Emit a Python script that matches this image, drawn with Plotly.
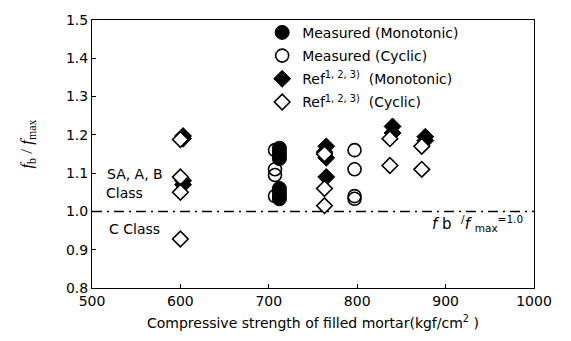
import plotly.graph_objects as go

# Bond strength ratio f_b / f_max against compressive strength of filled mortar
meas_mono_x = [712, 712, 712, 712, 712, 712, 712, 712]
meas_mono_y = [1.165, 1.155, 1.145, 1.138, 1.06, 1.05, 1.04, 1.033]

meas_cyc_x = [707, 707, 707, 707, 797, 797, 797, 797]
meas_cyc_y = [1.16, 1.11, 1.095, 1.04, 1.16, 1.11, 1.04, 1.033]

ref_mono_x = [603, 603, 603, 603, 765, 765, 765, 840, 840, 877, 877]
ref_mono_y = [1.197, 1.19, 1.08, 1.07, 1.17, 1.14, 1.09, 1.222, 1.205, 1.195, 1.185]

ref_cyc_x = [600, 600, 600, 600, 763, 763, 763, 763, 837, 837, 873, 873]
ref_cyc_y = [1.188, 1.09, 1.05, 0.928, 1.155, 1.15, 1.06, 1.015, 1.19, 1.12, 1.17, 1.11]

threshold = 1.0
x_ticks = [500, 600, 700, 800, 900, 1000]
y_ticks = [0.8, 0.9, 1.0, 1.1, 1.2, 1.3, 1.4, 1.5]

FONT = "DejaVu Sans"
BLACK = "#000000"

fig = go.Figure()

fig.add_trace(go.Scatter(
    x=meas_mono_x, y=meas_mono_y, mode="markers", name="Measured (Monotonic)",
    legendgroup="a",
    marker=dict(symbol="circle", size=14, color=BLACK, line=dict(color=BLACK, width=1)),
))
fig.add_trace(go.Scatter(
    x=meas_cyc_x, y=meas_cyc_y, mode="markers", name="Measured (Cyclic)",
    legendgroup="b",
    marker=dict(symbol="circle-open", size=13, color=BLACK, line=dict(color=BLACK, width=1.6)),
))
fig.add_trace(go.Scatter(
    x=ref_mono_x, y=ref_mono_y, mode="markers",
    name="Ref<sup>1, 2, 3)</sup>  (Monotonic)",
    legendgroup="c",
    marker=dict(symbol="diamond", size=13, color=BLACK, line=dict(color=BLACK, width=1)),
))
fig.add_trace(go.Scatter(
    x=ref_cyc_x, y=ref_cyc_y, mode="markers",
    name="Ref<sup>1, 2, 3)</sup>  (Cyclic)",
    legendgroup="d",
    marker=dict(symbol="diamond", size=12, color="white", line=dict(color=BLACK, width=1.6)),
))

# Class boundary
fig.add_shape(
    type="line", xref="x", yref="y", x0=x_ticks[0], x1=x_ticks[-1], y0=threshold, y1=threshold,
    line=dict(color=BLACK, width=1.5, dash="10px,5px,2px,5px"),
)

label_font = dict(family=FONT, size=14, color=BLACK)
fig.add_annotation(x=0.029, y=1.097, xref="paper", yref="y", text="SA, A, B",
                   showarrow=False, xanchor="left", yanchor="middle", font=label_font)
fig.add_annotation(x=0.027, y=1.049, xref="paper", yref="y", text="Class",
                   showarrow=False, xanchor="left", yanchor="middle", font=label_font)
fig.add_annotation(x=0.035, y=0.955, xref="paper", yref="y", text="C Class",
                   showarrow=False, xanchor="left", yanchor="middle", font=label_font)
fig.add_annotation(x=0.98, y=0.968, xref="paper", yref="y",
                   text="<i>f</i> b  <sup>/</sup><i>f</i> <sub>max</sub><sup>=1.0</sup>",
                   showarrow=False, xanchor="right", yanchor="middle",
                   font=dict(family=FONT, size=15, color=BLACK))

# Y-axis title
fig.add_annotation(x=0, y=0.535, xref="paper", yref="paper", xshift=-64,
                   text="<i>f</i><sub>b</sub> / <i>f</i><sub>max</sub>", textangle=-90,
                   showarrow=False, xanchor="center", yanchor="middle",
                   font=dict(family="Liberation Serif", size=17, color=BLACK))

axis_common = dict(
    showgrid=False, zeroline=False, showline=True, linecolor=BLACK, linewidth=1,
    mirror=True, ticks="inside", ticklen=4, tickcolor=BLACK,
    tickfont=dict(family=FONT, size=14, color=BLACK),
)

fig.update_xaxes(range=[500, 1000], tickvals=x_ticks, **axis_common,
                 title=dict(text="Compressive strength of filled mortar(kgf/cm<sup>2</sup> )",
                            font=dict(family=FONT, size=14, color=BLACK), standoff=10))
fig.update_yaxes(range=[0.8, 1.5], tickvals=y_ticks, tickformat=".1f", **axis_common)

fig.update_layout(
    width=571, height=341,
    margin=dict(l=92, r=37, t=16, b=51),
    paper_bgcolor="white", plot_bgcolor="white",
    font=dict(family=FONT, size=14, color=BLACK),
    showlegend=True,
    legend=dict(x=0.385, y=1.012, xanchor="left", yanchor="top",
                bgcolor="rgba(0,0,0,0)", borderwidth=0,
                tracegroupgap=2, itemwidth=30,
                font=dict(family=FONT, size=14, color=BLACK)),
)

fig.write_html("out.html")
